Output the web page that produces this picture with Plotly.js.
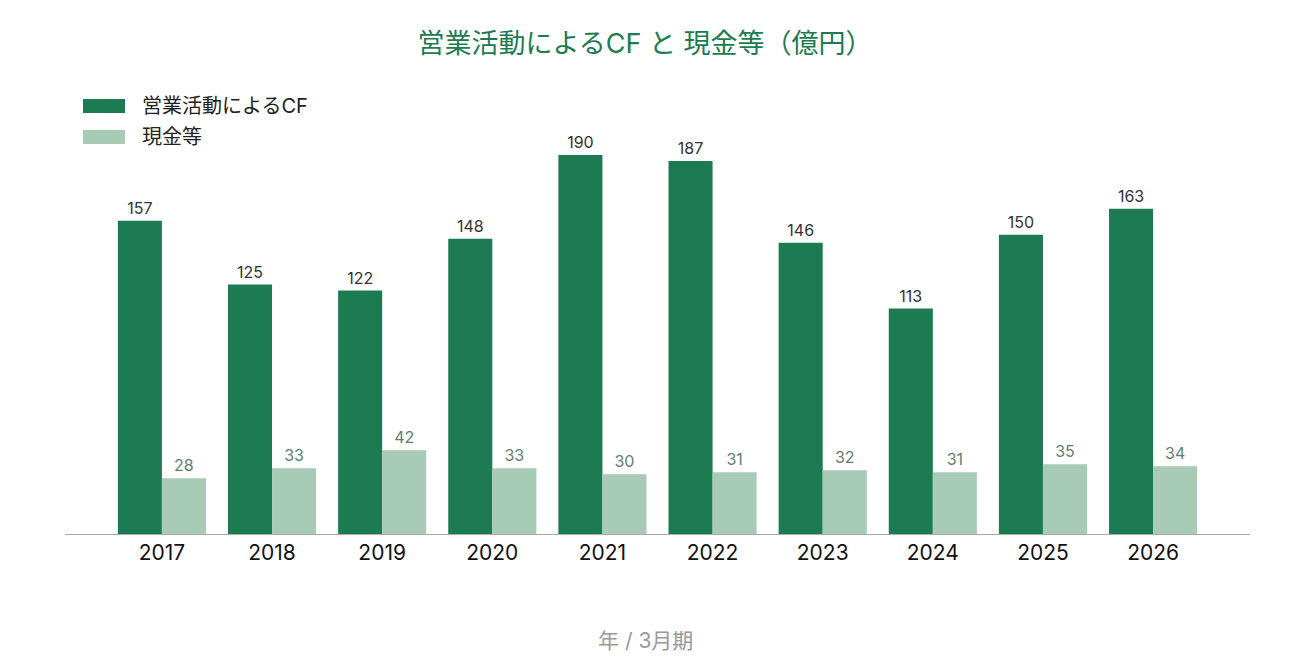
<!DOCTYPE html>
<html>
<head>
<meta charset="utf-8">
<script src="https://cdn.plot.ly/plotly-3.0.1.min.js"></script>
<style>html,body{margin:0;padding:0;background:#fff;}#chart{width:1290px;height:660px;}</style>
</head>
<body>
<div id="chart"></div>
<script>
const years = ['2017','2018','2019','2020','2021','2022','2023','2024','2025','2026'];
const operatingCF = [157,125,122,148,190,187,146,113,150,163];
const cashEtc = [28,33,42,33,30,31,32,31,35,34];
const seriesNames = ['営業活動によるCF', '現金等'];
const seriesColors = ['#1c7b51', '#a8cbb5'];
const axisTitle = '年 / 3月期';

const FONT = 'Inter, "Noto Sans CJK JP", "Noto Sans", sans-serif';

const W = 1290, H = 660;
const M = {l: 65, r: 40, t: 90, b: 126};
const PW = W - M.l - M.r, PH = H - M.t - M.b;
const px2x = p => (p - M.l) / PW;
const py2y = p => (H - M.b - p) / PH;

const traces = [
  {
    type: 'bar', name: seriesNames[0], x: years, y: operatingCF,
    marker: {color: seriesColors[0]},
    text: operatingCF.map(String), textposition: 'outside',
    textfont: {color: '#333333', size: 16, family: FONT},
    cliponaxis: false, hoverinfo: 'skip', showlegend: false
  },
  {
    type: 'bar', name: seriesNames[1], x: years, y: cashEtc,
    marker: {color: seriesColors[1]},
    text: cashEtc.map(String), textposition: 'outside',
    textfont: {color: '#5e7f6e', size: 16, family: FONT},
    cliponaxis: false, hoverinfo: 'skip', showlegend: false
  }
];

// custom legend (wide swatches)
const shapes = [], annotations = [];
seriesNames.forEach((name, i) => {
  const cy = 106 + i * 31;
  shapes.push({type: 'rect', xref: 'paper', yref: 'paper',
    x0: px2x(83), x1: px2x(125), y0: py2y(cy + 7), y1: py2y(cy - 7),
    fillcolor: seriesColors[i], line: {width: 0}});
  annotations.push({xref: 'paper', yref: 'paper', x: px2x(140), y: py2y(cy),
    xanchor: 'left', yanchor: 'middle', showarrow: false, text: name,
    font: {size: 20, color: '#222222', family: FONT}});
});
annotations.push({xref: 'paper', yref: 'paper', x: px2x(645), y: py2y(640),
  xanchor: 'center', yanchor: 'middle', showarrow: false, text: axisTitle,
  font: {size: 21, color: '#999999', family: FONT}});

const layout = {
  width: W, height: H,
  paper_bgcolor: '#ffffff', plot_bgcolor: '#ffffff',
  font: {family: FONT, color: '#222222'},
  margin: M,
  title: {text: '営業活動によるCF と 現金等（億円）', font: {size: 27, color: '#1c7b51', family: FONT}, x: 0.5, xanchor: 'center', y: 1 - 44 / H, yanchor: 'middle'},
  barmode: 'group', bargap: 0.2, bargroupgap: 0,
  showlegend: false,
  shapes: shapes,
  annotations: annotations,
  xaxis: {
    type: 'category', range: [-0.88, 9.88],
    showline: true, linecolor: '#aaaaaa', linewidth: 1,
    showgrid: false, zeroline: false, ticks: '',
    tickfont: {size: 21, color: '#111111', family: FONT}
  },
  yaxis: {range: [0, PH / 1.995], visible: false, showgrid: false, zeroline: false}
};

Plotly.newPlot('chart', traces, layout, {displayModeBar: false, staticPlot: true});
</script>
</body>
</html>
